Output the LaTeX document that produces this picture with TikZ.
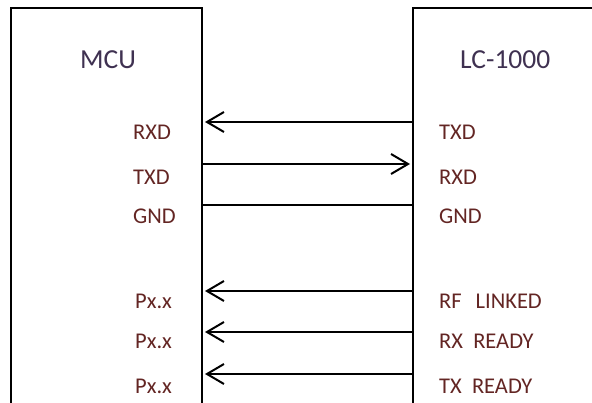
\documentclass[tikz,border=0pt]{standalone}
\usepackage{fontspec}
\setmainfont{Carlito}
\usetikzlibrary{arrows.meta}
\definecolor{titlecol}{RGB}{63,49,81}
\definecolor{pincol}{RGB}{99,37,35}
\begin{document}
\begin{tikzpicture}[x=1pt,y=-1pt]

    \tikzset{
      box/.style={line width=1.8pt},
      sig/.style={
        line width=2pt,
        -{Straight Barb[length=17pt,width=20pt]},
        shorten >=3pt,
      },
      wire/.style={line width=2pt},
      title/.style={text=titlecol, font=\fontsize{27.5}{30}\selectfont, anchor=base west, inner sep=0pt},
      pin/.style={text=pincol, font=\fontsize{22.5}{26}\selectfont, anchor=base west, inner sep=0pt},
    }
    \useasboundingbox (0,0) rectangle (592,403);
    % the two blocks, open at the bottom
    \draw[box] (11,403) -- (11,8) -- (202,8) -- (202,403);
    \draw[box] (413,403) -- (413,8) -- (592,8);
    \node[title] (mcu) at (80,69) {MCU};
    \node[title] (lc) at (460,69) {LC-1000};

    % pin names
    \node[pin] (mrxd) at (133,140) {RXD};
    \node[pin] (mtxd) at (133,185) {TXD};
    \node[pin] (mgnd) at (133,224) {GND};
    \node[pin] (mpa) at (135,309) {Px.x};
    \node[pin] (mpb) at (135,349) {Px.x};
    \node[pin] (mpc) at (135,393) {Px.x};
    \node[pin] (ltxd) at (439,140) {TXD};
    \node[pin] (lrxd) at (439,185) {RXD};
    \node[pin] (lgnd) at (439,224) {GND};
    \node[pin] (lrf) at (439,309) {RF\ \ \,LINKED};
    \node[pin] (lrx) at (439,349) {RX\ \ READY};
    \node[pin] (ltx) at (439,393) {TX\ \ READY};

    % ends of the wires on the block edges
    \coordinate (m1) at (202,122); \coordinate (l1) at (413,122);
    \coordinate (m2) at (202,164); \coordinate (l2) at (413,164);
    \coordinate (m3) at (202,205); \coordinate (l3) at (413,205);
    \coordinate (m4) at (202,291); \coordinate (l4) at (413,291);
    \coordinate (m5) at (202,332); \coordinate (l5) at (413,332);
    \coordinate (m6) at (202,374); \coordinate (l6) at (413,374);

    \draw[sig] (l1) -- (m1);
    \draw[sig] (m2) -- (l2);
    \draw[wire] (m3) -- (l3);
    \draw[sig] (l4) -- (m4);
    \draw[sig] (l5) -- (m5);
    \draw[sig] (l6) -- (m6);

\end{tikzpicture}
\end{document}
